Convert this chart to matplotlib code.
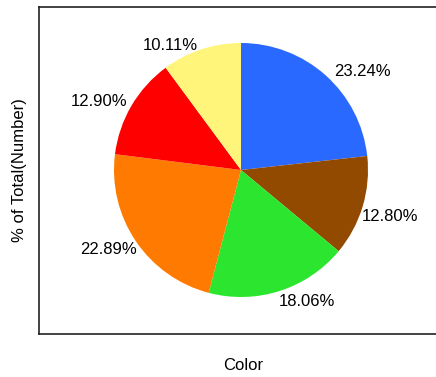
import matplotlib.pyplot as plt
import numpy as np

plt.rcParams['font.family'] = ['Liberation Sans', 'DejaVu Sans']

# slice data (clockwise from 12 o'clock)
colors_names = ['Blue', 'Brown', 'Green', 'Orange', 'Red', 'Yellow']
pct = [23.24, 12.80, 18.06, 22.89, 12.90, 10.11]
slice_colors = ['#2A69FF', '#924900', '#2BE52E', '#FF7A00', '#FF0000', '#FFF57A']

# label placement tweaks (degrees shift, radius factor)
lbl_shift = [-9, -0.5, 9, -3, 4.5, 11.5]
lbl_rad = [1.23, 1.23, 1.16, 1.22, 1.24, 1.13]

fig = plt.figure(figsize=(4.36, 3.77), dpi=100)
ax = fig.add_axes([39 / 436, 43 / 377, 408 / 436, 327.5 / 377])

cx, cy, R = 241, 207, 127
wedges, texts, autotexts = ax.pie(
    pct, colors=slice_colors, startangle=90, counterclock=False,
    center=(cx, cy), radius=R, frame=True,
    autopct='%.2f%%', pctdistance=1.2,
    wedgeprops=dict(linewidth=0),
    textprops=dict(fontsize=12, color='black'))

# move the percentage labels a bit, like the original
for w, t, sh, rf in zip(wedges, autotexts, lbl_shift, lbl_rad):
    ang = np.deg2rad((w.theta1 + w.theta2) / 2 + sh)
    t.set_position((cx + rf * R * np.cos(ang), cy + rf * R * np.sin(ang)))
    t.set_ha('center')
    t.set_va('center')

ax.set_xlim(39, 447)
ax.set_ylim(43, 370.5)
ax.set_aspect('auto')
ax.set_xticks([])
ax.set_yticks([])
for s in ax.spines.values():
    s.set_linewidth(1.2)
    s.set_color('#222222')

ax.set_xlabel('Color', fontsize=12)
ax.set_ylabel('% of Total(Number)', fontsize=12)
ax.xaxis.set_label_coords(0.5, -0.072)
ax.yaxis.set_label_coords(-0.029, 0.5)

fig.savefig('out.png', dpi=100)
